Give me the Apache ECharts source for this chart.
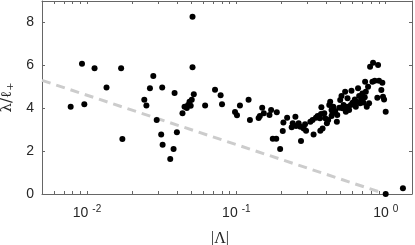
<!DOCTYPE html>
<html>
<head>
<meta charset="utf-8">
<script src="https://cdn.jsdelivr.net/npm/echarts@6/dist/echarts.min.js"></script>
<style>
html,body{margin:0;padding:0;background:#fff;}
#chart{width:415px;height:245px;}
</style>
</head>
<body>
<div id="chart"></div>
<script>
// |Λ| values of the scatter points
const lambdaAbs = [
  0.00778,0.00926,0.0096,0.01124,0.01352,0.01693,0.01726,
  0.0242,0.0250,0.0264,0.0278,0.0293,0.0314,0.0321,0.0319,0.0361,0.038,0.0386,0.0400,
  0.0436,0.045,0.0466,0.0475,0.0486,0.0495,0.0503,0.0519,0.0509,0.0509,
  0.0618,0.072,0.0785,0.0802,0.098,0.101,0.1057,0.1208,0.1233,0.141,0.1437,0.149,0.1527,
  0.1667,0.171,0.1866,0.1754,0.185,0.1965,0.2046,0.2066,0.2188,0.2348,0.2386,0.2486,0.2512,
  0.2613,0.271,0.2685,0.2825,0.2885,0.293,0.313,0.324,0.329,0.341,0.35,0.363,0.369,0.371,
  0.365,0.378,0.388,0.394,0.404,0.412,0.419,0.425,0.434,0.434,0.441,0.446,0.459,0.471,0.474,
  0.489,0.496,0.506,0.514,0.522,0.535,0.541,0.55,0.555,0.569,0.59,0.584,0.6,0.621,0.631,
  0.641,0.653,0.664,0.674,0.688,0.698,0.709,0.724,0.736,0.728,0.747,0.762,0.774,0.786,
  0.823,0.815,0.845,0.879,0.889,0.902,0.935,0.95,0.959,0.975,1.0,1.0,1.304
];
// λ/ℓ+ values of the scatter points
const ratio = [
  4.07,6.07,4.18,5.86,4.97,5.86,2.56,
  4.40,4.13,4.93,5.50,3.45,2.78,2.30,4.97,1.63,2.10,4.71,2.88,
  3.76,4.07,4.01,4.15,4.30,4.12,4.40,4.65,5.91,8.27,
  4.13,4.86,4.60,4.18,3.82,3.67,4.13,4.40,3.45,3.54,3.64,4.02,3.76,
  3.68,3.92,3.81,2.58,2.58,2.10,2.94,3.34,3.56,3.11,3.30,3.60,3.17,
  3.30,2.47,3.14,3.06,3.25,2.95,3.37,3.45,2.78,3.56,3.64,3.53,3.73,4.04,
  2.95,3.06,3.76,3.53,3.30,3.45,4.15,4.30,3.92,3.64,3.76,4.07,3.87,3.37,3.68,
  4.02,4.38,4.57,4.00,4.15,4.77,3.84,4.07,4.46,3.92,4.82,4.15,4.26,4.41,4.07,
  4.30,4.93,4.57,4.23,4.38,4.69,4.27,4.51,4.77,5.24,4.07,5.00,4.23,5.93,
  6.12,5.24,5.28,4.49,6.01,5.28,4.85,5.19,4.54,4.41,3.84,0.0,0.27
];
// dashed reference line endpoints
const refX = [0.005, 1.0];
const refY = [5.3, 0.0];
// tick values
const xMajorTicks = [0.01, 0.1, 1];
const xMinorTicks = [0.006,0.007,0.008,0.009,0.02,0.03,0.04,0.05,0.06,0.07,0.08,0.09,0.2,0.3,0.4,0.5,0.6,0.7,0.8,0.9];
const yTicks = [0, 2, 4, 6, 8];

const xTickAll = xMajorTicks.concat(xMinorTicks).sort((a,b)=>a-b);
const axisColor = '#666';
const labelColor = '#262626';

const baseX = {
  type: 'log', logBase: 10, min: 0.005, max: 1.5,
  axisLine: {show: true, onZero: false, lineStyle: {color: axisColor, width: 1}},
  axisTick: {show: true, inside: true, length: 3, customValues: xTickAll, lineStyle: {color: axisColor}},
  minorTick: {show: false},
  splitLine: {show: false}
};
const baseY = {
  type: 'value', min: 0, max: 9,
  axisLine: {show: true, onZero: false, lineStyle: {color: axisColor, width: 1}},
  axisTick: {show: true, inside: true, length: 3, customValues: yTicks, lineStyle: {color: axisColor}},
  splitLine: {show: false}
};

const chart = echarts.init(document.getElementById('chart'), null, {renderer: 'canvas'});
chart.setOption({
  animation: false,
  backgroundColor: '#fff',
  grid: {left: 42, right: 3, top: 1, bottom: 51, containLabel: false, outerBoundsMode: 'none'},
  xAxis: [
    Object.assign({}, baseX, {
      position: 'bottom',
      name: '|Λ|', nameLocation: 'middle', nameGap: 37,
      nameTextStyle: {fontFamily: 'Liberation Serif', fontSize: 16, color: labelColor, padding: [0, 14, 0, 0]},
      axisLabel: {
        show: true, customValues: xMajorTicks, margin: 10,
        formatter: function (v) { return '{b|10}{s|' + Math.round(Math.log10(v)) + '}'; },
        rich: {
          b: {fontFamily: 'Liberation Sans', fontSize: 14, color: labelColor},
          s: {fontFamily: 'Liberation Sans', fontSize: 10, color: labelColor, padding: [0, 0, 9, 4]}
        }
      }
    }),
    Object.assign({}, baseX, {position: 'top', axisLabel: {show: false}})
  ],
  yAxis: [
    Object.assign({}, baseY, {
      position: 'left',
      name: '{a|λ/ℓ}{s|+}', nameLocation: 'middle', nameGap: 25, nameRotate: 90,
      nameTextStyle: {
        rich: {
          a: {fontFamily: 'DejaVu Serif', fontSize: 15, color: labelColor},
          s: {fontFamily: 'DejaVu Serif', fontSize: 10, color: labelColor, padding: [6, 0, 0, 0]}
        }
      },
      axisLabel: {show: true, customValues: yTicks, margin: 8, fontFamily: 'Liberation Sans', fontSize: 14, color: labelColor}
    }),
    Object.assign({}, baseY, {position: 'right', axisLabel: {show: false}})
  ],
  series: [
    {
      type: 'line', xAxisIndex: 0, yAxisIndex: 0,
      data: refX.map((x, i) => [x, refY[i]]),
      showSymbol: false, symbol: 'none',
      lineStyle: {color: '#cccccc', width: 3, type: [9, 6]},
      z: 1
    },
    {
      type: 'scatter', xAxisIndex: 0, yAxisIndex: 0,
      data: lambdaAbs.map((x, i) => [x, ratio[i]]),
      symbol: 'circle', symbolSize: 6,
      itemStyle: {color: '#000', opacity: 1},
      z: 2
    }
  ]
});
</script>
</body>
</html>
